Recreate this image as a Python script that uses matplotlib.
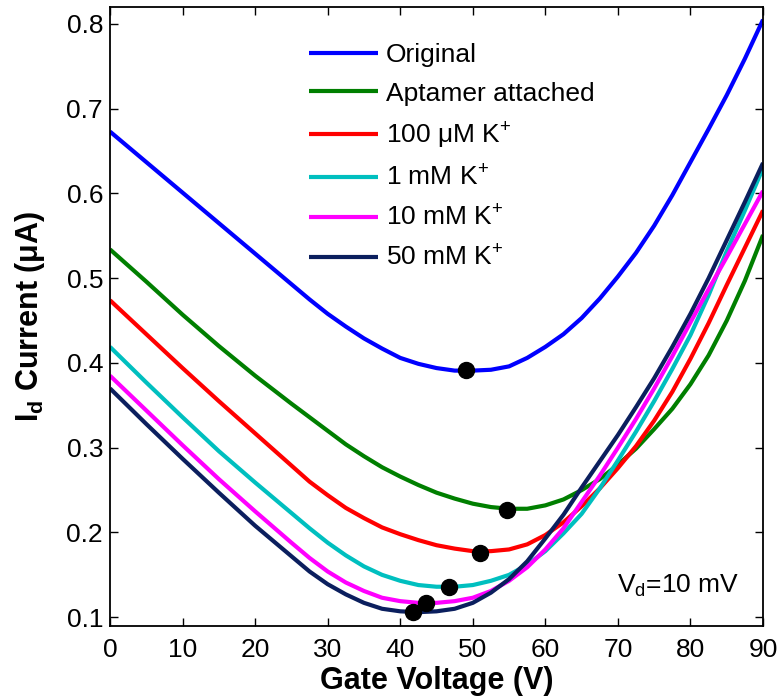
import matplotlib
matplotlib.use('Agg')
import matplotlib.pyplot as plt

#Fonts close to the Helvetica look of the original
plt.rcParams['font.family'] = ['Liberation Sans', 'DejaVu Sans']
plt.rcParams['mathtext.fontset'] = 'custom'
plt.rcParams['mathtext.rm'] = 'Liberation Sans'
plt.rcParams['mathtext.it'] = 'Liberation Sans:italic'
plt.rcParams['mathtext.bf'] = 'Liberation Sans:bold'

#Gate voltage samples (V), finer where the curves bend
gate_voltage = [0, 5, 10, 15, 20, 25, 27.5, 30, 32.5, 35, 37.5, 40, 42.5, 45, 47.5, 50, 52.5, 55,
                57.5, 60, 62.5, 65, 67.5, 70, 72.5, 75, 77.5, 80, 82.5, 85, 87.5, 90]

#Drain current (uA)
original = [0.673, 0.637, 0.601, 0.565, 0.529, 0.493, 0.475, 0.458, 0.443, 0.429, 0.417, 0.406,
            0.399, 0.394, 0.391, 0.391, 0.392, 0.396, 0.406, 0.419, 0.434, 0.453, 0.476, 0.502,
            0.530, 0.562, 0.598, 0.637, 0.676, 0.716, 0.759, 0.805]
aptamer = [0.534, 0.496, 0.457, 0.420, 0.385, 0.352, 0.336, 0.320, 0.304, 0.290, 0.277, 0.266,
           0.256, 0.247, 0.240, 0.234, 0.230, 0.228, 0.228, 0.232, 0.239, 0.250, 0.263, 0.280,
           0.299, 0.322, 0.346, 0.375, 0.409, 0.450, 0.497, 0.551]
k_100uM = [0.474, 0.434, 0.394, 0.355, 0.317, 0.279, 0.260, 0.244, 0.229, 0.217, 0.206, 0.198,
           0.191, 0.185, 0.181, 0.178, 0.178, 0.180, 0.186, 0.197, 0.212, 0.231, 0.252, 0.276,
           0.302, 0.332, 0.366, 0.405, 0.447, 0.492, 0.536, 0.580]
k_1mM = [0.419, 0.377, 0.336, 0.296, 0.259, 0.223, 0.205, 0.188, 0.173, 0.160, 0.150, 0.143,
         0.138, 0.136, 0.136, 0.138, 0.143, 0.150, 0.162, 0.178, 0.199, 0.222, 0.252, 0.285,
         0.319, 0.355, 0.393, 0.433, 0.480, 0.532, 0.580, 0.630]
k_10mM = [0.385, 0.344, 0.303, 0.263, 0.225, 0.188, 0.170, 0.154, 0.141, 0.131, 0.123, 0.119,
          0.117, 0.117, 0.119, 0.123, 0.131, 0.143, 0.159, 0.180, 0.205, 0.236, 0.267, 0.300,
          0.334, 0.370, 0.408, 0.448, 0.487, 0.525, 0.564, 0.603]
k_50mM = [0.370, 0.328, 0.287, 0.247, 0.208, 0.172, 0.154, 0.139, 0.127, 0.117, 0.110, 0.107,
          0.106, 0.107, 0.110, 0.117, 0.129, 0.145, 0.166, 0.193, 0.221, 0.253, 0.284, 0.315,
          0.348, 0.382, 0.419, 0.458, 0.500, 0.545, 0.590, 0.636]

#Dirac points (minimum of each curve)
min_voltage = [49.0, 54.7, 51.0, 46.7, 43.5, 41.7]
min_current = [0.392, 0.227, 0.176, 0.136, 0.117, 0.106]

labels = ['Original', 'Aptamer attached', '100 \u03bcM K$^{+}$', '1 mM K$^{+}$',
          '10 mM K$^{+}$', '50 mM K$^{+}$']
colors = ['#0000ff', '#007f00', '#ff0000', '#00bfbf', '#ff00ff', '#0b1f5e']
curves = [original, aptamer, k_100uM, k_1mM, k_10mM, k_50mM]

fig = plt.figure(figsize=(7.79, 7.0), dpi=100)
ax = fig.add_axes([0.1412, 0.1061, 0.8383, 0.8839])

for ys, c, lab in zip(curves, colors, labels):
    ax.plot(gate_voltage, ys, color=c, lw=3, label=lab, solid_capstyle='butt', solid_joinstyle='round')

ax.plot(min_voltage, min_current, 'o', color='black', markersize=11.5, zorder=5)

ax.set_xlim(0, 90)
ax.set_ylim(0.09, 0.82)
ax.set_xticks(range(0, 91, 10))
ax.set_yticks([0.1, 0.2, 0.3, 0.4, 0.5, 0.6, 0.7, 0.8])
ax.tick_params(direction='in', top=True, right=True, length=6, width=1, labelsize=19)
ax.tick_params(axis='x', pad=9)
ax.tick_params(axis='y', pad=5)
for s in ax.spines.values():
    s.set_linewidth(1.3)

ax.set_xlabel('Gate Voltage (V)', fontsize=22, fontweight='bold', labelpad=3)
ax.set_ylabel('I$_\\mathbf{d}$ Current (\u03bcA)', fontsize=22, fontweight='bold', labelpad=14)

ax.text(0.776, 0.053, 'V$_\\mathrm{d}$=10 mV', transform=ax.transAxes, fontsize=19, va='baseline')

leg = ax.legend(loc='upper left', bbox_to_anchor=(0.305, 0.942), frameon=False, fontsize=19,
                handlelength=2.6, handletextpad=0.3, labelspacing=0.56, borderpad=0, borderaxespad=0)

fig.savefig('out.png', dpi=100)
